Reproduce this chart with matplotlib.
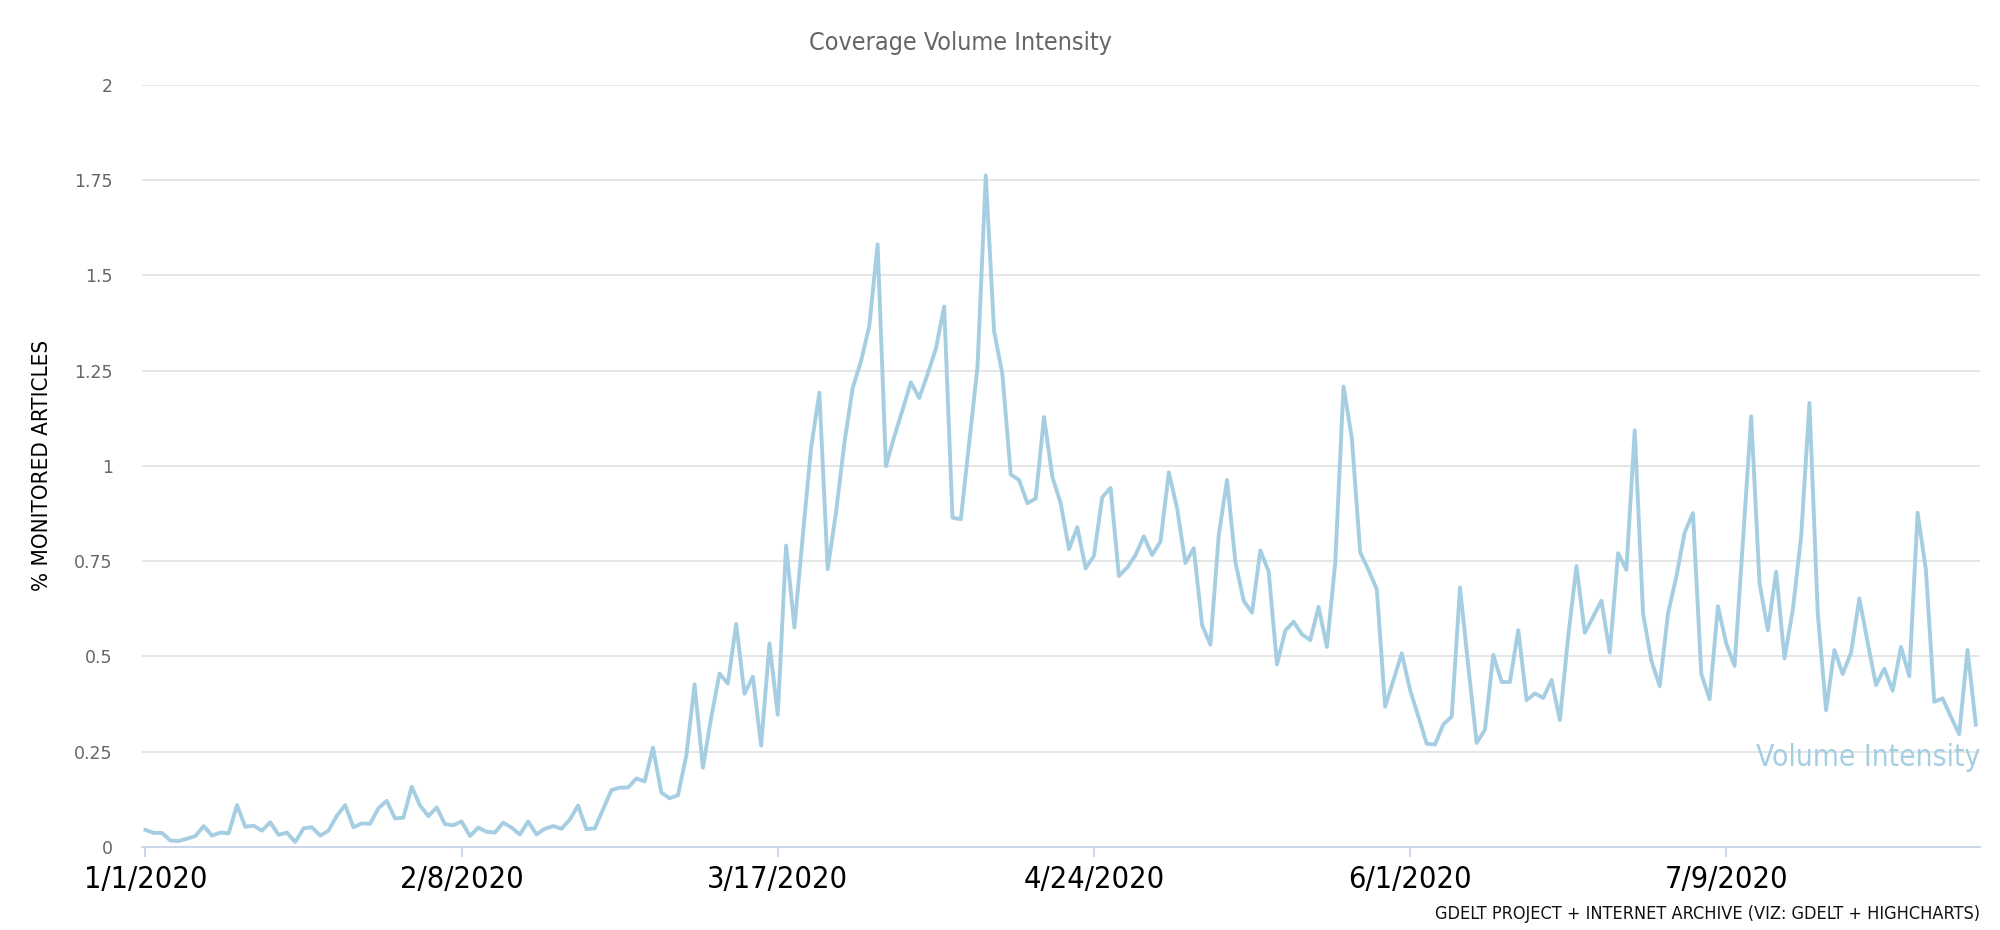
import matplotlib
matplotlib.use("Agg")
import pandas as pd
import matplotlib.pyplot as plt
from matplotlib import font_manager

# daily volume intensity, % of monitored articles, starting 1/1/2020
volume = [
    0.045, 0.037, 0.037, 0.017, 0.016, 0.022, 0.029, 0.055, 0.030, 0.038,
    0.036, 0.110, 0.053, 0.056, 0.043, 0.065, 0.032, 0.038, 0.013, 0.049,
    0.052, 0.030, 0.043, 0.082, 0.110, 0.052, 0.062, 0.061, 0.102, 0.121,
    0.075, 0.077, 0.158, 0.109, 0.081, 0.104, 0.060,
    0.057, 0.067, 0.029, 0.051, 0.040, 0.038, 0.064, 0.051, 0.033, 0.067,
    0.033, 0.048, 0.055, 0.048, 0.072, 0.109, 0.047, 0.049, 0.099, 0.149,
    0.156, 0.156, 0.180, 0.172, 0.261, 0.143, 0.128, 0.136, 0.239, 0.427,
    0.208, 0.340, 0.455, 0.429, 0.585, 0.402,
    0.447, 0.266, 0.534, 0.347, 0.791, 0.576, 0.815, 1.047, 1.192, 0.729,
    0.878, 1.059, 1.204, 1.274, 1.367, 1.581, 0.999, 1.077, 1.147, 1.219,
    1.178, 1.240, 1.307, 1.418, 0.864, 0.860, 1.059, 1.258, 1.762, 1.353,
    1.240, 0.977, 0.963, 0.902,
    0.914, 1.128, 0.971, 0.902, 0.781, 0.839, 0.731, 0.764, 0.918, 0.942,
    0.711, 0.733, 0.766, 0.815, 0.766, 0.802, 0.983, 0.888, 0.745, 0.784,
    0.582, 0.531, 0.818, 0.963, 0.748, 0.646, 0.615, 0.778, 0.723, 0.479,
    0.568, 0.591, 0.558, 0.543, 0.630,
    0.525, 0.744, 1.208, 1.073, 0.773, 0.727, 0.676, 0.368, 0.438, 0.508,
    0.412, 0.342, 0.271, 0.269, 0.322, 0.342, 0.681, 0.473, 0.273, 0.308,
    0.504, 0.433, 0.433, 0.569, 0.385, 0.403, 0.391, 0.438, 0.333, 0.552,
    0.737, 0.562, 0.604, 0.646, 0.510, 0.771, 0.727,
    1.093, 0.613, 0.489, 0.422, 0.613, 0.709, 0.825, 0.876, 0.454, 0.388,
    0.632, 0.534, 0.475, 0.800, 1.130, 0.692, 0.569, 0.722, 0.495, 0.622,
    0.814, 1.165, 0.613, 0.359, 0.517, 0.454, 0.510, 0.652, 0.536, 0.425,
    0.468, 0.410, 0.525, 0.448, 0.877, 0.727, 0.381, 0.390, 0.342, 0.296,
    0.517, 0.321,
]
tick_labels = ["1/1/2020", "2/8/2020", "3/17/2020", "4/24/2020", "6/1/2020", "7/9/2020"]
y_ticks = [0, 0.25, 0.5, 0.75, 1, 1.25, 1.5, 1.75, 2]
y_tick_labels = ["0", "0.25", "0.5", "0.75", "1", "1.25", "1.5", "1.75", "2"]

dates = pd.date_range("2020-01-01", periods=len(volume), freq="D")
tick_dates = pd.to_datetime(tick_labels, format="%m/%d/%Y")

installed = {f.name for f in font_manager.fontManager.ttflist}
if "Liberation Sans Narrow" in installed:
    narrow = dict(family="Liberation Sans Narrow")
else:
    narrow = dict(family="DejaVu Sans", stretch="condensed")

LINE = "#a6cee3"
AXIS = "#ccd6eb"

fig = plt.figure(figsize=(20, 9.3), dpi=100)
ax = fig.add_axes([0.071, 0.0892, 0.919, 0.8198])

ax.plot(dates, volume, color=LINE, lw=2.8, solid_joinstyle="round", zorder=3)

ax.set_xlim(dates[0] - pd.Timedelta(hours=10), dates[-1] + pd.Timedelta(hours=12))
ax.set_ylim(0, 2)
ax.set_yticks(y_ticks)
ax.set_yticklabels(y_tick_labels, color="#666666", fontsize=12.5, family="DejaVu Sans")
ax.set_xticks(tick_dates)
ax.set_xticklabels(tick_labels, fontsize=22, color="black", **narrow)

ax.tick_params(axis="y", length=0, pad=21)
ax.tick_params(axis="x", direction="out", length=7, width=1.4, color=AXIS, pad=6)

ax.grid(axis="y", color="#e6e6e6", lw=1.4, zorder=0)
ax.set_axisbelow(True)
for side in ("top", "right", "left"):
    ax.spines[side].set_visible(False)
ax.spines["bottom"].set_color(AXIS)
ax.spines["bottom"].set_linewidth(1.4)

fig.text(0.48, 1 - 43 / 930, "Coverage Volume Intensity", ha="center", va="center",
         color="#666666", fontsize=18, **narrow)
fig.text(0.021, 1 - 465 / 930, "% MONITORED ARTICLES", rotation=90, ha="center",
         va="center", color="black", fontsize=16, **narrow)
fig.text(0.99, 1 - 757 / 930, "Volume Intensity", ha="right", va="center",
         color=LINE, fontsize=21.5, **narrow)
fig.text(0.99, 1 - 914 / 930, "GDELT PROJECT + INTERNET ARCHIVE (VIZ: GDELT + HIGHCHARTS)",
         ha="right", va="center", color="#111111", fontsize=13, **narrow)

fig.savefig("out.png", dpi=100)
